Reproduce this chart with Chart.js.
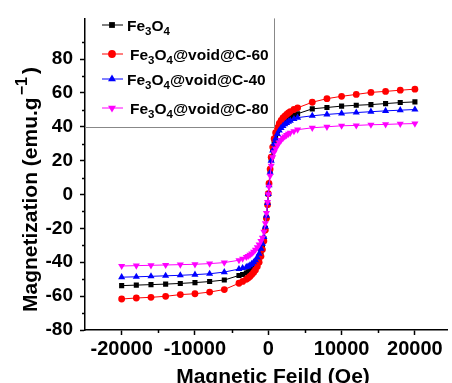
<!DOCTYPE html>
<html>
<head>
<meta charset="utf-8">
<script src="https://cdn.jsdelivr.net/npm/chart.js@4/dist/chart.umd.min.js"></script>
<style>
  html, body { margin: 0; padding: 0; background: #fff; overflow: hidden; }
  canvas { display: block; }
</style>
</head>
<body>
<canvas id="mh" width="452" height="383"></canvas>
<script>
// M-H loops, values (emu/g vs Oe)
const fieldOe = [-20000, -18000, -16000, -14000, -12000, -10000, -8000, -6000, -4000,
  -3500, -3000, -2750, -2500, -2250, -2000, -1750, -1500, -1250, -1000, -800, -600, -400, -250, -100,
  0,
  100, 250, 400, 600, 800, 1000, 1250, 1500, 1750, 2000, 2250, 2500, 2750, 3000, 3500,
  4000, 6000, 8000, 10000, 12000, 14000, 16000, 18000, 20000];

const mFe3O4 = [-53.8, -53.5, -53.2, -52.9, -52.5, -52.0, -51.4, -50.5, -47.8,
  -47.2, -46.3, -45.6, -44.8, -43.8, -42.7, -41.3, -39.5, -37, -34, -30.5, -26, -20, -13.5, -5.5,
  0.3,
  6, 14, 21, 27, 31.5, 34.5, 37.5, 39.8, 41.5, 42.8, 43.8, 44.7, 45.4, 46, 46.9,
  47.7, 50.6, 51.4, 52.2, 52.7, 53.1, 53.7, 54.3, 54.7];

const mC60 = [-61.7, -61.1, -60.7, -60.1, -59.1, -58.6, -57.6, -56.1, -52.4,
  -51.3, -50.1, -49.3, -48.4, -47.3, -46, -44.5, -42.5, -40, -36.5, -32.5, -27.5, -21, -14, -6,
  0.5,
  6.5, 15, 22, 28, 33, 36.5, 39.5, 42, 43.8, 45.2, 46.3, 47.3, 48.2, 49, 50.2,
  51.2, 54.5, 56.6, 58.0, 59.1, 60.3, 60.9, 61.6, 62.2];

const mC40 = [-48.8, -48.6, -48.3, -48.0, -47.7, -47.3, -46.8, -45.8, -44.0,
  -43.4, -42.9, -42.4, -41.8, -41, -40, -38.8, -37.2, -35, -32, -29, -25, -19, -12.5, -5,
  0.3,
  5.5, 13, 20, 26, 30, 33, 35.8, 37.8, 39.3, 40.5, 41.5, 42.3, 43, 43.6, 44.6,
  45.4, 46.5, 47.3, 47.9, 48.4, 48.9, 49.4, 49.8, 50.2];

const mC80 = [-42.2, -42.0, -41.8, -41.6, -41.4, -41.2, -40.8, -40.2, -38.8,
  -37.9, -36.9, -36.3, -35.6, -34.8, -33.8, -32.6, -31.2, -29.5, -27.5, -25.5, -22, -17, -11, -4.5,
  0.2,
  4.5, 11, 17, 22, 25, 27, 29, 30.7, 32.1, 33.3, 34.3, 35.1, 35.8, 36.4, 37.4,
  38.3, 39.4, 40.0, 40.6, 40.8, 41.2, 41.4, 41.7, 41.9];

const sampleNames = ["Fe3O4", "Fe3O4@void@C-60", "Fe3O4@void@C-40", "Fe3O4@void@C-80"];

const xTicks = [-20000, -10000, 0, 10000, 20000];
const xMinor = [-15000, -5000, 5000, 15000];
const yTicks = [-80, -60, -40, -20, 0, 20, 40, 60, 80];
const yMinor = [-70, -50, -30, -10, 10, 30, 50, 70, 90];

const FONT = "'Liberation Sans', Arial, sans-serif";

function toPoints(ys) {
  return fieldOe.map((x, i) => ({ x, y: ys[i] }));
}

function series(label, ys, color, style, rot, radius, order) {
  return {
    label,
    data: toPoints(ys),
    borderColor: color,
    backgroundColor: color,
    borderWidth: 1,
    pointStyle: style,
    rotation: rot,
    pointRadius: radius,
    pointBorderWidth: 0,
    pointBackgroundColor: color,
    showLine: true,
    tension: 0,
    order
  };
}

// "Fe3O4..." -> pieces with subscripted digits
function chemParts(name) {
  const rest = name.slice(5);
  return [["Fe", 0], ["3", 1], ["O", 0], ["4", 1], [rest, 0]];
}

function drawParts(ctx, parts, x, y, size, subSize, subDrop) {
  ctx.textAlign = "left";
  ctx.textBaseline = "alphabetic";
  parts.forEach(([t, sub]) => {
    if (!t) return;
    ctx.font = `bold ${sub ? subSize : size}px ${FONT}`;
    ctx.fillText(t, x, y + (sub ? subDrop : 0));
    x += ctx.measureText(t).width;
  });
}

const decor = {
  id: "decor",
  afterDraw(chart) {
    const ctx = chart.ctx;
    const xs = chart.scales.x, ys = chart.scales.y;
    const area = chart.chartArea;
    ctx.save();

    // minor ticks
    ctx.strokeStyle = "#000";
    ctx.lineWidth = 1.5;
    ctx.beginPath();
    xMinor.forEach(v => {
      const px = Math.round(xs.getPixelForValue(v)) + 0.5;
      ctx.moveTo(px, area.bottom);
      ctx.lineTo(px, area.bottom + 3);
    });
    yMinor.forEach(v => {
      const py = Math.round(ys.getPixelForValue(v)) + 0.5;
      ctx.moveTo(area.left, py);
      ctx.lineTo(area.left - 3, py);
    });
    ctx.stroke();

    // legend frame (right and bottom edges only)
    const boxRight = Math.round(xs.getPixelForValue(800)) + 0.5;
    const boxBottom = Math.round(ys.getPixelForValue(40)) + 0.5;
    ctx.strokeStyle = "#888";
    ctx.lineWidth = 1;
    ctx.beginPath();
    ctx.moveTo(boxRight, area.top);
    ctx.lineTo(boxRight, boxBottom);
    ctx.lineTo(area.left, boxBottom);
    ctx.stroke();

    // legend rows
    const rowY = [25, 54, 79, 108];
    const rowTextX = [127, 130, 127, 130];
    [0, 1, 2, 3].forEach((di, r) => {
      const ds = chart.data.datasets[di];
      const y = rowY[r];
      ctx.strokeStyle = ds.borderColor;
      ctx.lineWidth = 1;
      ctx.beginPath();
      ctx.moveTo(102, y);
      ctx.lineTo(123, y);
      ctx.stroke();
      ctx.fillStyle = ds.borderColor;
      Chart.helpers.drawPoint(ctx, {
        pointStyle: ds.pointStyle, rotation: ds.rotation,
        radius: ds.pointRadius + 0.5, borderWidth: 0
      }, 112, y);
      ctx.fillStyle = "#000";
      drawParts(ctx, chemParts(sampleNames[di]), rowTextX[r], y + 5.5, 15.5, 11.5, 4.5);
    });

    // y title with superscript, rotated
    ctx.fillStyle = "#000";
    ctx.translate(37, 312);
    ctx.rotate(-Math.PI / 2);
    ctx.textAlign = "left";
    ctx.textBaseline = "alphabetic";
    let x = 0;
    ctx.font = `bold 21px ${FONT}`;
    const main = "Magnetization (emu.g";
    ctx.fillText(main, x, 0);
    x += ctx.measureText(main).width + 2;
    ctx.font = `bold 16px ${FONT}`;
    ctx.fillText("\u22121", x, -10);
    x += ctx.measureText("\u22121").width + 3;
    ctx.font = `bold 21px ${FONT}`;
    ctx.fillText(")", x, 0);
    ctx.setTransform(1, 0, 0, 1, 0, 0);

    // x title
    ctx.font = `bold 21px ${FONT}`;
    ctx.textAlign = "center";
    ctx.fillText("Magnetic Feild (Oe)", 273, 383);
    ctx.restore();
  }
};

new Chart(document.getElementById("mh"), {
  type: "scatter",
  data: {
    datasets: [
      series(sampleNames[0], mFe3O4, "#000000", "rect", 0, 3.6, 4),
      series(sampleNames[1], mC60, "#ff0000", "circle", 0, 3.4, 3),
      series(sampleNames[2], mC40, "#0000ff", "triangle", 0, 4.1, 2),
      series(sampleNames[3], mC80, "#ff00ff", "triangle", 180, 4.1, 1)
    ]
  },
  options: {
    responsive: false,
    devicePixelRatio: 1,
    animation: false,
    layout: { padding: { top: 12, left: 0, right: 0, bottom: 0 } },
    plugins: {
      legend: { display: false },
      tooltip: { enabled: false }
    },
    scales: {
      x: {
        type: "linear",
        min: -25000,
        max: 24500,
        afterBuildTicks: s => { s.ticks = xTicks.map(v => ({ value: v })); },
        afterFit: s => { s.height = 53; },
        ticks: { color: "#000", font: { family: FONT, size: 20, weight: "bold" }, padding: 2,
                 maxRotation: 0, autoSkip: false, callback: v => String(v) },
        grid: { drawOnChartArea: false, drawTicks: true, tickLength: 5, color: "#000", tickWidth: 1.5 },
        border: { display: true, color: "#000", width: 1.5 }
      },
      y: {
        type: "linear",
        min: -80,
        max: 104,
        afterBuildTicks: s => { s.ticks = yTicks.map(v => ({ value: v })); },
        afterFit: s => { s.width = 85; },
        ticks: { color: "#000", font: { family: FONT, size: 19, weight: "bold" }, padding: 7, autoSkip: false },
        grid: { drawOnChartArea: false, drawTicks: true, tickLength: 5, color: "#000", tickWidth: 1.5 },
        border: { display: true, color: "#000", width: 1.5 }
      }
    }
  },
  plugins: [decor]
});
</script>
</body>
</html>
